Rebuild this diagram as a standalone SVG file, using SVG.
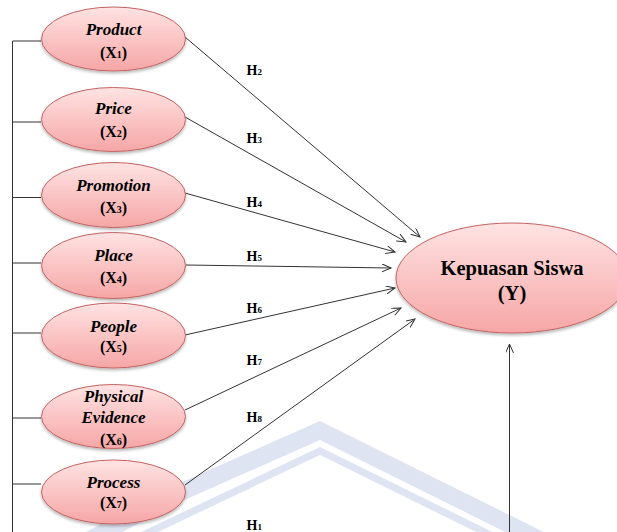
<svg xmlns="http://www.w3.org/2000/svg" width="617" height="532" viewBox="0 0 617 532">
<defs>
<linearGradient id="pink" x1="0" y1="0" x2="0" y2="1">
<stop offset="0" stop-color="#ffe3e3"/>
<stop offset="1" stop-color="#f6a6a6"/>
</linearGradient>
<filter id="sh" x="-10%" y="-15%" width="120%" height="140%">
<feDropShadow dx="0" dy="2" stdDeviation="1.5" flood-color="#000" flood-opacity="0.28"/>
</filter>
<marker id="arr" markerUnits="userSpaceOnUse" markerWidth="12" markerHeight="10" refX="9" refY="4" orient="auto" viewBox="0 0 12 10">
<path d="M0,0 L9,4 L0,8" fill="none" stroke="#333" stroke-width="1"/>
</marker>
</defs>
<style>
.node ellipse { fill:url(#pink); stroke:#c26362; stroke-width:1; filter:url(#sh); }
.lbl { font-family:"Liberation Serif","Times New Roman",serif; font-size:17px; font-weight:bold; font-style:italic; fill:#000; text-anchor:middle; }
.var { font-family:"Liberation Serif","Times New Roman",serif; font-size:16px; font-weight:bold; fill:#000; text-anchor:middle; }
.big { font-family:"Liberation Serif","Times New Roman",serif; font-size:20.5px; font-weight:bold; fill:#000; text-anchor:middle; }
.sub { font-size:10px; }
.h { font-family:"Liberation Serif","Times New Roman",serif; font-size:14px; font-weight:bold; fill:#000; }
.hs { font-size:9px; }
.conn line { stroke:#333; stroke-width:1; fill:none; }
.arrow { marker-end:url(#arr); }
.br { stroke:#222; stroke-width:1.2; fill:none; }
.tick { stroke:#7a7a7a; stroke-width:1.5; }
.wm { fill:#dfe4f3; }
</style>
<rect width="617" height="532" fill="#fff"/>
<g id="watermark">
<path class="wm" d="M80 535 L180 483 L320 421 L600 560 L600 579 L320 440 L180 502 L80 554 Z"/>
<path class="wm" d="M80 561 L320 447 L600 585 L600 593 L320 455 L80 569 Z"/>
</g>
<g id="connectors" class="conn">
<line class="br" x1="12.5" y1="41" x2="12.5" y2="532"/>
<line class="tick" x1="12.5" y1="41" x2="41" y2="41"/>
<line class="tick" x1="12.5" y1="122" x2="41" y2="122"/>
<line class="tick" x1="12.5" y1="197.5" x2="41" y2="197.5"/>
<line class="tick" x1="12.5" y1="263" x2="41" y2="263"/>
<line class="tick" x1="12.5" y1="333" x2="41" y2="333"/>
<line class="tick" x1="12.5" y1="418" x2="41" y2="418"/>
<line class="tick" x1="12.5" y1="484" x2="41" y2="484"/>
<line class="arrow" x1="185" y1="37" x2="420" y2="237"/>
<line class="arrow" x1="185" y1="117" x2="406" y2="242"/>
<line class="arrow" x1="185" y1="193" x2="395" y2="252"/>
<line class="arrow" x1="186" y1="265" x2="391" y2="268"/>
<line class="arrow" x1="185" y1="335" x2="395" y2="288"/>
<line class="arrow" x1="185" y1="410" x2="401" y2="308"/>
<line class="arrow" x1="185" y1="485" x2="415" y2="319"/>
<line class="arrow" x1="509.5" y1="532" x2="509.5" y2="344"/>
<text class="h" x="246.5" y="75">H<tspan class="hs">2</tspan></text>
<text class="h" x="246.5" y="143">H<tspan class="hs">3</tspan></text>
<text class="h" x="246.5" y="207">H<tspan class="hs">4</tspan></text>
<text class="h" x="246.5" y="261">H<tspan class="hs">5</tspan></text>
<text class="h" x="246.5" y="313">H<tspan class="hs">6</tspan></text>
<text class="h" x="246.5" y="365">H<tspan class="hs">7</tspan></text>
<text class="h" x="246.5" y="422">H<tspan class="hs">8</tspan></text>
<text class="h" x="246.5" y="530">H<tspan class="hs">1</tspan></text>
</g>
<g id="product" class="node">
<ellipse cx="113.5" cy="39" rx="72" ry="32"/>
<text class="lbl" x="113.5" y="35">Product</text>
<text class="var" x="113.5" y="58">(X<tspan class="sub">1</tspan>)</text>
</g>
<g id="price" class="node">
<ellipse cx="113.5" cy="119.5" rx="72" ry="32"/>
<text class="lbl" x="113.5" y="114">Price</text>
<text class="var" x="113.5" y="137">(X<tspan class="sub">2</tspan>)</text>
</g>
<g id="promotion" class="node">
<ellipse cx="113.5" cy="195" rx="72" ry="32.5"/>
<text class="lbl" x="113.5" y="190.5">Promotion</text>
<text class="var" x="113.5" y="213">(X<tspan class="sub">3</tspan>)</text>
</g>
<g id="place" class="node">
<ellipse cx="113.5" cy="265.5" rx="72" ry="33"/>
<text class="lbl" x="113.5" y="260.5">Place</text>
<text class="var" x="113.5" y="283">(X<tspan class="sub">4</tspan>)</text>
</g>
<g id="people" class="node">
<ellipse cx="113.5" cy="335.5" rx="72" ry="32.5"/>
<text class="lbl" x="113.5" y="332">People</text>
<text class="var" x="113.5" y="352">(X<tspan class="sub">5</tspan>)</text>
</g>
<g id="physical-evidence" class="node">
<ellipse cx="113.5" cy="416.5" rx="72" ry="32"/>
<text class="lbl" x="113.5" y="402">Physical</text>
<text class="lbl" x="113.5" y="423">Evidence</text>
<text class="var" x="113.5" y="445">(X<tspan class="sub">6</tspan>)</text>
</g>
<g id="process" class="node">
<ellipse cx="113.5" cy="492" rx="72" ry="32"/>
<text class="lbl" x="113.5" y="488">Process</text>
<text class="var" x="113.5" y="508">(X<tspan class="sub">7</tspan>)</text>
</g>
<g id="kepuasan-siswa" class="node">
<ellipse cx="512" cy="278" rx="116" ry="55"/>
<text class="big" x="512" y="275">Kepuasan Siswa</text>
<text class="big" x="512" y="300">(Y)</text>
</g>
</svg>
